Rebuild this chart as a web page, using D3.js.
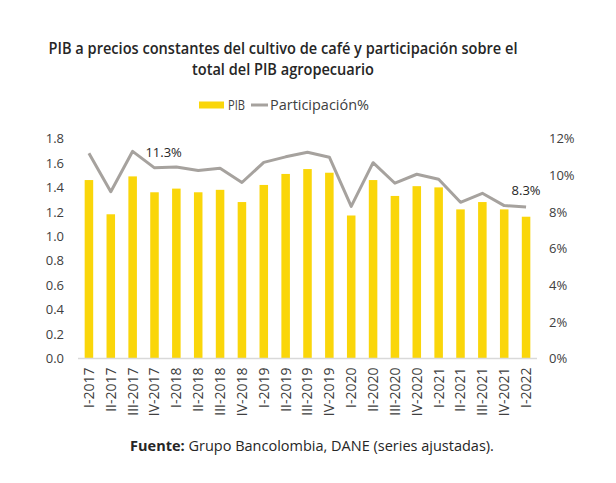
<!DOCTYPE html>
<html>
<head>
<meta charset="utf-8">
<script src="https://cdn.jsdelivr.net/npm/d3@7"></script>
<style>
  body { margin: 0; background: #fff; }
  text { font-family: "Open Sans", sans-serif; fill: #404040; }
</style>
</head>
<body>
<div id="box-div"></div>
<script>
// trimestres
const quarters = ['I-2017','II-2017','III-2017','IV-2017','I-2018','II-2018','III-2018','IV-2018',
    'I-2019','II-2019','III-2019','IV-2019','I-2020','II-2020','III-2020','IV-2020',
    'I-2021','II-2021','III-2021','IV-2021','I-2022'];
// PIB (billones, eje izq.)
const pib = [1.46,1.18,1.49,1.36,1.39,1.36,1.38,1.28,1.42,1.51,1.55,1.52,1.17,1.46,1.33,1.41,1.40,1.22,1.28,1.22,1.16];
// participación % (eje der.)
const part = [11.2,9.1,11.3,10.4,10.45,10.25,10.38,9.6,10.7,11.0,11.25,10.98,8.3,10.68,9.56,10.05,9.78,8.52,9.01,8.34,8.27];
const leftTicks = [0,0.2,0.4,0.6,0.8,1.0,1.2,1.4,1.6,1.8];
const rightTicks = [0,2,4,6,8,10,12];

const dms = { width: 616, height: 483, left: 78, right: 537, top: 138.5, bottom: 358.5 };

const svg = d3.select('#box-div').append('svg')
    .attr('width', dms.width)
    .attr('height', dms.height);

// titulo (fuente algo condensada en el original)
const title = svg.append('g').attr('id','title');
[['PIB a precios constantes del cultivo de café y participación sobre el', 469],
 ['total del PIB agropecuario', 182]]
    .forEach((t, i) => {
        title.append('text')
            .attr('x', 283)
            .attr('y', 54 + i * 21)
            .attr('text-anchor', 'middle')
            .attr('textLength', t[1])
            .attr('lengthAdjust', 'spacingAndGlyphs')
            .style('font-size', '16px')
            .style('font-weight', 600)
            .style('fill', '#262626')
            .text(t[0]);
    });

const x = d3.scaleBand()
    .domain(quarters)
    .range([dms.left, dms.right])
    .paddingInner(0.61)
    .paddingOuter(0.305);

const yL = d3.scaleLinear().domain([0, 1.8]).range([dms.bottom, dms.top]);
const yR = d3.scaleLinear().domain([0, 12]).range([dms.bottom, dms.top]);

// barras
svg.append('g').attr('id','bars')
    .selectAll('rect')
    .data(pib)
    .join('rect')
    .attr('x', (d, i) => x(quarters[i]))
    .attr('width', x.bandwidth())
    .attr('y', d => yL(d))
    .attr('height', d => yL(0) - yL(d))
    .attr('fill', '#FAD60A');

// linea base
svg.append('line')
    .attr('x1', dms.left).attr('x2', dms.right)
    .attr('y1', yL(0)).attr('y2', yL(0))
    .attr('stroke', '#d9d9d9').attr('stroke-width', 1.5);

// participacion
const lineGen = d3.line()
    .x((d, i) => x(quarters[i]) + x.bandwidth() / 2)
    .y(d => yR(d));

svg.append('path')
    .datum(part)
    .attr('d', lineGen)
    .attr('fill', 'none')
    .attr('stroke', '#A6A29E')
    .attr('stroke-width', 3)
    .attr('stroke-linejoin', 'round');

// etiquetas de datos
svg.append('text')
    .attr('x', x(quarters[2]) + x.bandwidth() / 2 + 31)
    .attr('y', yR(part[2]) + 6)
    .attr('text-anchor', 'middle')
    .style('font-size', '13px')
    .style('fill', '#262626')
    .text('11.3%');

svg.append('text')
    .attr('x', x(quarters[20]) + x.bandwidth() / 2)
    .attr('y', yR(part[20]) - 12)
    .attr('text-anchor', 'middle')
    .style('font-size', '13px')
    .style('fill', '#262626')
    .text('8.3%');

// ejes
const axisL = svg.append('g')
    .attr('transform', 'translate(64,0)')
    .call(d3.axisLeft(yL).tickValues(leftTicks).tickFormat(d3.format('.1f')).tickSize(0).tickPadding(0));
const axisR = svg.append('g')
    .attr('transform', 'translate(549,0)')
    .call(d3.axisRight(yR).tickValues(rightTicks).tickFormat(d => d + '%').tickSize(0).tickPadding(0));
[axisL, axisR].forEach(a => {
    a.select('.domain').remove();
    a.selectAll('text')
        .style('font-size', '13px')
        .style('font-family', '"Open Sans", sans-serif')
        .attr('fill', '#404040');
});

const axisX = svg.append('g')
    .attr('transform', `translate(0,${dms.bottom})`)
    .call(d3.axisBottom(x).tickSize(0).tickPadding(0));
axisX.select('.domain').remove();
axisX.selectAll('text')
    .attr('transform', 'rotate(-90)')
    .attr('x', -9)
    .attr('y', 0)
    .attr('dy', '0.35em')
    .attr('text-anchor', 'end')
    .style('font-size', '14px')
    .style('font-family', '"Open Sans", sans-serif')
    .attr('fill', '#404040');

// leyenda
const legend = svg.append('g').attr('id','legend');
legend.append('rect')
    .attr('x', 199).attr('y', 101.5)
    .attr('width', 25).attr('height', 7)
    .attr('fill', '#FAD60A');
legend.append('text')
    .attr('x', 228).attr('y', 110)
    .attr('textLength', 17)
    .attr('lengthAdjust', 'spacingAndGlyphs')
    .style('font-size', '14px')
    .text('PIB');
legend.append('line')
    .attr('x1', 251).attr('x2', 268)
    .attr('y1', 105).attr('y2', 105)
    .attr('stroke', '#A6A29E').attr('stroke-width', 3);
legend.append('text')
    .attr('x', 270).attr('y', 110)
    .attr('textLength', 99)
    .attr('lengthAdjust', 'spacingAndGlyphs')
    .style('font-size', '14.5px')
    .text('Participación%');

// fuente
const src = svg.append('text')
    .attr('x', 312).attr('y', 451)
    .attr('text-anchor', 'middle')
    .style('font-size', '14.5px')
    .style('fill', '#262626');
src.append('tspan').style('font-weight', 700).text('Fuente:');
src.append('tspan').text(' Grupo Bancolombia, DANE (series ajustadas).');
</script>
</body>
</html>
